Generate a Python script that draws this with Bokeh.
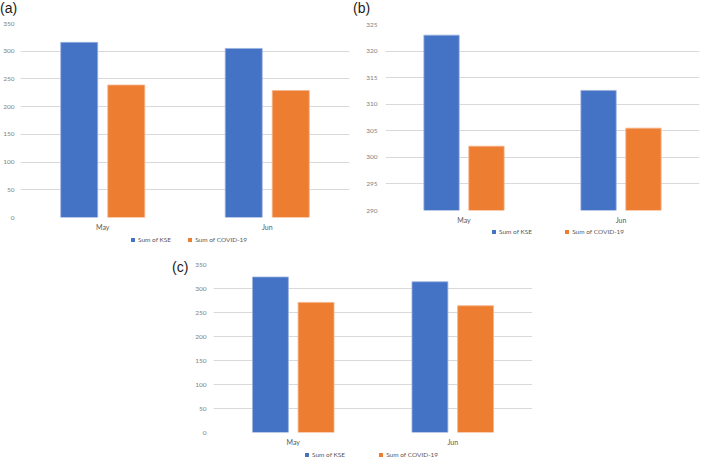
from bokeh.plotting import figure
from bokeh.models import (FactorRange, Range1d, Legend, LegendItem, Div,
                          ColumnDataSource, SingleIntervalTicker, Spacer)
from bokeh.layouts import column, row
from bokeh.transform import dodge
from bokeh.embed import file_html
from bokeh.resources import INLINE

months = ["May", "Jun"]
series = ["Sum of KSE", "Sum of COVID-19"]

a_kse = [316, 305]
a_covid = [239, 229]
b_kse = [323, 312.6]
b_covid = [302.1, 305.5]
c_kse = [324, 314]
c_covid = [271, 264]

BLUE = "#4472C4"
ORANGE = "#ED7D31"
BLUE_EDGE = "#9DB3DE"
ORANGE_EDGE = "#F5B48A"
TICK_FONT = "Lato"


def make_panel(kse, covid, y0, y1, step, width, height, bl, br, bt, bb,
               y_standoff, x_standoff):
    p = figure(x_range=FactorRange(*months), y_range=Range1d(y0, y1),
               width=width, height=height, output_backend="svg",
               toolbar_location=None, min_border_left=bl, min_border_right=br,
               min_border_top=bt, min_border_bottom=bb)
    src = ColumnDataSource(dict(month=months, kse=kse, covid=covid))
    p.vbar(x=dodge("month", -0.143, range=p.x_range), top="kse", bottom=y0,
           width=0.225, source=src, fill_color=BLUE,
           line_color=BLUE_EDGE, line_width=0.8)
    p.vbar(x=dodge("month", 0.143, range=p.x_range), top="covid", bottom=y0,
           width=0.225, source=src, fill_color=ORANGE,
           line_color=ORANGE_EDGE, line_width=0.8)
    p.outline_line_color = None
    p.xgrid.grid_line_color = None
    p.ygrid.grid_line_color = "#D9D9D9"
    p.ygrid.grid_line_width = 1
    p.yaxis.ticker = SingleIntervalTicker(interval=step)
    for ax in (p.xaxis[0], p.yaxis[0]):
        ax.axis_line_color = None
        ax.major_tick_line_color = None
        ax.minor_tick_line_color = None
        ax.major_tick_out = 0
        ax.minor_tick_out = 0
        ax.major_label_text_font = TICK_FONT
    p.yaxis.major_label_text_font_size = "6.5px"
    p.yaxis.major_label_text_color = "#7F7F7F"
    p.yaxis.major_label_standoff = y_standoff
    p.xaxis.major_label_text_font_size = "7px"
    p.xaxis.major_label_text_color = "#595959"
    p.xaxis.major_label_standoff = x_standoff
    return p


def legend_fig(width, height, lx, ly, spacing):
    f = figure(width=width, height=height, x_range=Range1d(0, 1),
               y_range=Range1d(0, 1), x_axis_type=None, y_axis_type=None,
               min_border=0, toolbar_location=None, output_backend="svg")
    f.outline_line_color = None
    # zero-height swatch carriers: they draw nothing, only feed the legend
    r1 = f.vbar(x=[0.5], top=[0], bottom=0, width=0.01, fill_color=BLUE,
                line_color=None)
    r2 = f.vbar(x=[0.5], top=[0], bottom=0, width=0.01, fill_color=ORANGE,
                line_color=None)
    legend = Legend(items=[LegendItem(label=series[0], renderers=[r1]),
                           LegendItem(label=series[1], renderers=[r2])],
                    orientation="horizontal", location=(lx, ly),
                    glyph_width=5, glyph_height=5, label_height=9,
                    label_text_font=TICK_FONT, label_text_font_size="6.5px",
                    label_text_color="#595959", label_standoff=3,
                    spacing=spacing, padding=0, margin=0,
                    border_line_color=None, background_fill_alpha=0)
    f.add_layout(legend)
    return f


def letter_div(letter, width, height, pad_left, pad_top):
    html = ('<div style="font-family:\'Liberation Sans\';font-size:14px;'
            'line-height:14px;color:#1A1A1A;white-space:nowrap;'
            f'padding-left:{pad_left}px;padding-top:{pad_top}px">{letter}</div>')
    return Div(text=html, width=width, height=height, margin=0)


# panel (a): x 0-350
da = letter_div("(a)", 350, 15, 0, 1)
pa = make_panel(a_kse, a_covid, 0, 350, 50, 350, 218, 18, 1, 8, 15, 6, 5)
la = legend_fig(350, 12, 110, 1, 16)

# panel (b): x 350-709
db = letter_div("(b)", 359, 15, 3, 1)
pb = make_panel(b_kse, b_covid, 290, 325, 5, 359, 211, 35, 10, 9, 15, 8, 5)
lb = legend_fig(359, 10, 106, 0, 32)

# panel (c)
dc = letter_div("(c)", 20, 30, 0, 15)
pc = make_panel(c_kse, c_covid, 0, 350, 50, 345, 203, 20, 5, 19, 15, 7, 5)
lc = legend_fig(345, 12, 91, 1, 33)

layout = column(row(column(da, pa, la), column(db, pb, lb)),
                row(Spacer(width=172, height=30), dc, column(pc, lc)))

open("out.html", "w").write(file_html(layout, INLINE))
